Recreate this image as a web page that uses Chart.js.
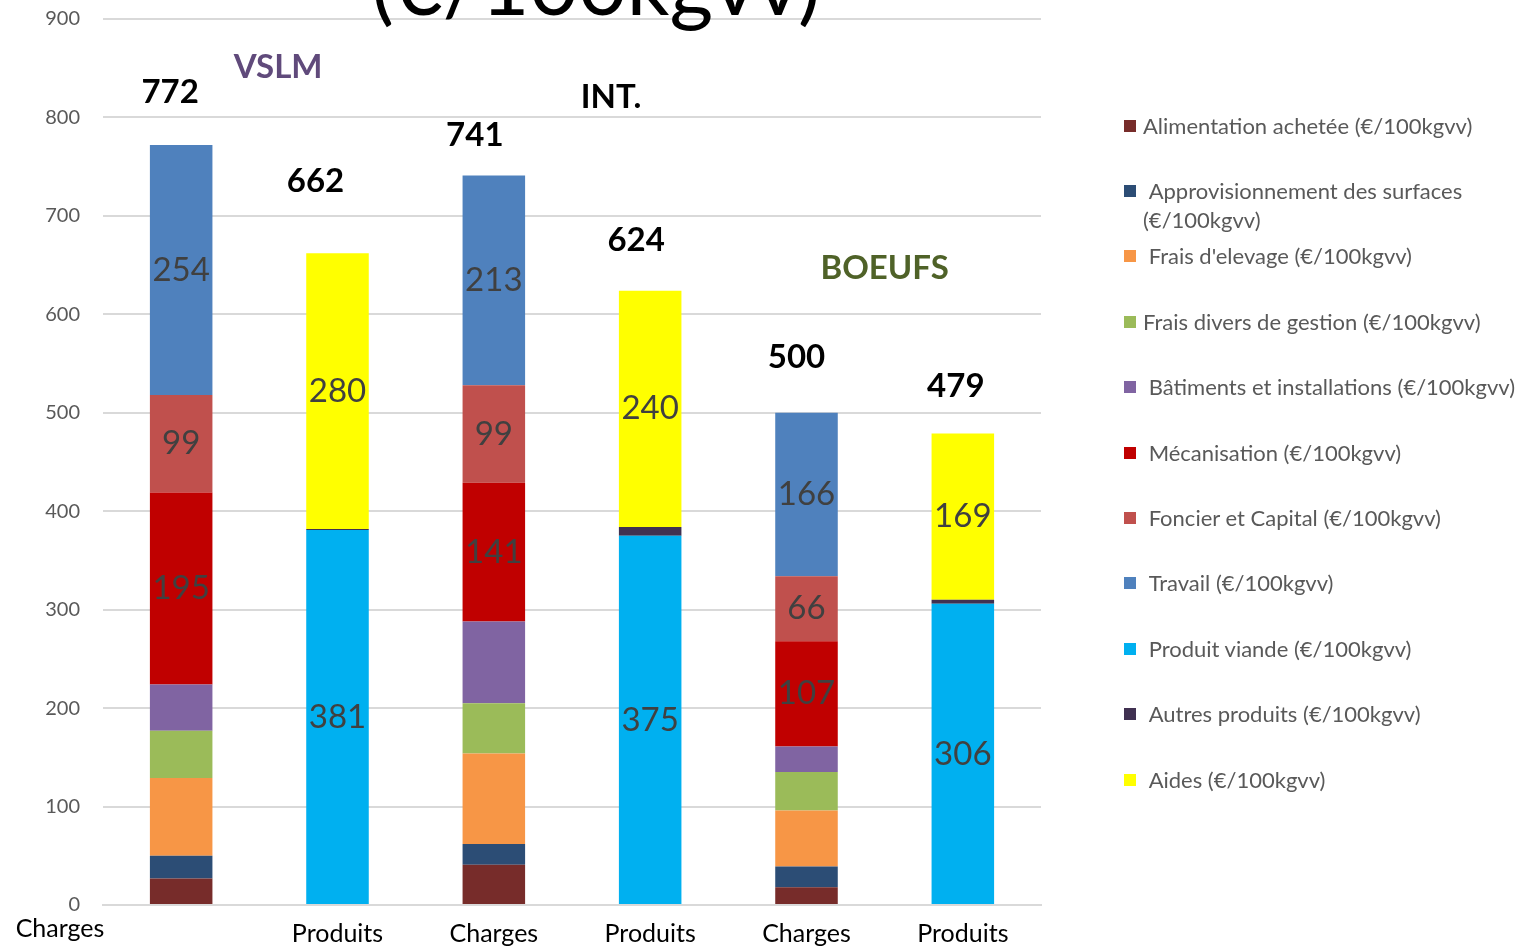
<!DOCTYPE html>
<html>
<head>
<meta charset="utf-8">
<script src="https://cdn.jsdelivr.net/npm/chart.js@4.4.0/dist/chart.umd.min.js"></script>
<style>
  body { margin: 0; background: #fff; }
  #wrap { position: relative; width: 1532px; height: 950px; overflow: hidden; }
  #legende { position: absolute; left: 1124px; top: 0; font-family: Lato, sans-serif; font-size: 22px; color: #595959; }
  .item { position: absolute; left: 0; width: 400px; line-height: 29px; }
  .carre { position: absolute; left: 0; top: 9px; width: 12px; height: 12px; }
  .txt { position: absolute; left: 19px; width: 385px; white-space: pre-wrap; }
</style>
</head>
<body>
<div id="wrap">
  <canvas id="graphique" width="1532" height="950"></canvas>
  <div id="legende"></div>
</div>
<script>
// colonnes
const categories = ['Charges', 'Produits', 'Charges', 'Produits', 'Charges', 'Produits'];

// charges (€/100kgvv)
const alimentation      = [27, null, 41, null, 18, null];
const approvisionnement = [23, null, 21, null, 21, null];
const fraisElevage      = [79, null, 92, null, 57, null];
const fraisDivers       = [48, null, 51, null, 39, null];
const batiments         = [47, null, 83, null, 26, null];
const mecanisation      = [195, null, 141, null, 107, null];
const foncier           = [99, null, 99, null, 66, null];
const travail           = [254, null, 213, null, 166, null];

// produits (€/100kgvv)
const produitViande  = [null, 381, null, 375, null, 306];
const autresProduits = [null, 1, null, 9, null, 4];
const aides          = [null, 280, null, 240, null, 169];

// totaux affichés au-dessus des barres
const totaux = [772, 662, 741, 624, 500, 479];

// axe Y
const yTicks = [0, 100, 200, 300, 400, 500, 600, 700, 800, 900];

const police = 'Lato, sans-serif';

const series = [
  { label: 'Alimentation achetée (€/100kgvv)', data: alimentation, color: '#772C2A' },
  { label: ' Approvisionnement des surfaces (€/100kgvv)', data: approvisionnement, color: '#2C4D75' },
  { label: ' Frais d\'elevage (€/100kgvv)', data: fraisElevage, color: '#F79646' },
  { label: 'Frais divers de gestion (€/100kgvv)', data: fraisDivers, color: '#9BBB59' },
  { label: ' Bâtiments et installations (€/100kgvv)', data: batiments, color: '#8064A2' },
  { label: ' Mécanisation (€/100kgvv)', data: mecanisation, color: '#C00000', valeurs: true },
  { label: ' Foncier et Capital (€/100kgvv)', data: foncier, color: '#C0504D', valeurs: true },
  { label: ' Travail (€/100kgvv)', data: travail, color: '#4F81BD', valeurs: true },
  { label: ' Produit viande (€/100kgvv)', data: produitViande, color: '#00B0F0', valeurs: true },
  { label: ' Autres produits (€/100kgvv)', data: autresProduits, color: '#403151' },
  { label: ' Aides (€/100kgvv)', data: aides, color: '#FFFF00', valeurs: true }
];

// textes libres
const annotations = [
  { texte: 'VSLM', x: 0.62, y: 851, couleur: '#604A7B' },
  { texte: 'INT.', x: 2.75, y: 820, couleur: '#000000' },
  { texte: 'BOEUFS', x: 4.5, y: 647, couleur: '#4F6228' }
];
const decalTotaux = [[-11, 53], [-22, 72], [-19, 40], [-14, 50], [-10, 55], [-7, 47]];

const textesPlugin = {
  id: 'textes',
  afterDatasetsDraw(chart) {
    const { ctx, scales } = chart;
    ctx.save();
    ctx.textAlign = 'center';
    ctx.textBaseline = 'middle';

    // valeurs dans les segments
    ctx.font = '33px ' + police;
    ctx.fillStyle = '#404040';
    chart.data.datasets.forEach((ds, i) => {
      if (!ds.valeurs) return;
      chart.getDatasetMeta(i).data.forEach((bar, j) => {
        if (ds.data[j] == null) return;
        ctx.fillText(ds.data[j], bar.x, (bar.y + bar.base) / 2);
      });
    });

    // totaux
    ctx.font = 'bold 33px ' + police;
    ctx.fillStyle = '#000';
    totaux.forEach((t, j) => {
      const x = scales.x.getPixelForValue(j) + decalTotaux[j][0];
      const y = scales.y.getPixelForValue(t) - decalTotaux[j][1];
      ctx.fillText(t, x, y);
    });

    // annotations
    annotations.forEach(a => {
      ctx.fillStyle = a.couleur;
      ctx.fillText(a.texte, scales.x.getPixelForValue(a.x), scales.y.getPixelForValue(a.y));
    });

    // titre (coupé en haut)
    ctx.fillStyle = '#000';
    ctx.font = '84px ' + police;
    ctx.textBaseline = 'alphabetic';
    ctx.fillText('(€/100kgvv)', 596, 15);

    // premier libellé décalé à gauche
    ctx.font = '25px ' + police;
    ctx.textBaseline = 'middle';
    ctx.fillText(categories[0], 60, 929);
    ctx.restore();
  }
};

new Chart(document.getElementById('graphique'), {
  type: 'bar',
  data: {
    labels: categories,
    datasets: series.map(s => ({
      label: s.label,
      data: s.data,
      backgroundColor: s.color,
      borderWidth: 0,
      valeurs: s.valeurs || false,
      barPercentage: 0.4,
      categoryPercentage: 1
    }))
  },
  options: {
    responsive: false,
    animation: false,
    layout: { padding: { top: 19, right: 491, left: 0, bottom: 0 } },
    plugins: {
      legend: { display: false },
      tooltip: { enabled: false }
    },
    scales: {
      x: {
        stacked: true,
        grid: { display: false },
        border: { display: true, color: '#d9d9d9', width: 2 },
        ticks: {
          color: '#000',
          font: { family: police, size: 25 },
          padding: 6,
          maxRotation: 0,
          callback: (v, i) => i === 0 ? '' : categories[i]
        },
        afterFit: s => { s.height = 45; s.paddingLeft = 0; s.paddingRight = 0; }
      },
      y: {
        stacked: true,
        min: 0,
        max: 900,
        afterBuildTicks: s => { s.ticks = yTicks.map(v => ({ value: v })); },
        grid: { color: '#d9d9d9', lineWidth: 2, drawTicks: false },
        border: { display: false },
        ticks: { color: '#595959', font: { family: police, size: 20 }, padding: 23 },
        afterFit: s => { s.width = 103; s.paddingTop = 0; s.paddingBottom = 0; }
      }
    }
  },
  plugins: [textesPlugin]
});

// légende à droite
const legende = document.getElementById('legende');
series.forEach((s, i) => {
  const item = document.createElement('div');
  item.className = 'item';
  item.style.top = (125 - 14.5 + i * 65.4) + 'px';
  item.innerHTML = '<span class="carre" style="background:' + s.color + '"></span><span class="txt"></span>';
  item.querySelector('.txt').textContent = s.label;
  legende.appendChild(item);
});
</script>
</body>
</html>
